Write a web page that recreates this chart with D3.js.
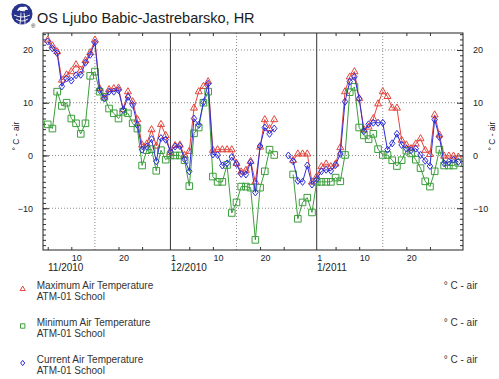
<!DOCTYPE html>
<html><head><meta charset="utf-8">
<script src="https://cdn.jsdelivr.net/npm/d3@7"></script>
<style>
html,body{margin:0;padding:0;background:#fff;}
svg{display:block;font-family:"Liberation Sans",Arial,Helvetica,sans-serif;}
</style></head>
<body>
<svg id="c" width="499" height="379"></svg>
<script>
// ---- data ----
const title = "OS Ljubo Babic-Jastrebarsko, HR";
const startDay = new Date(2010, 10, 5);   // first daily value: 5 Nov 2010
const endDay = new Date(2011, 1, 1);      // exclusive
const dates = d3.timeDay.range(startDay, endDay);

const maxTemp = [
  // Nov 5..30
  21.9,20.8,19.7,14.3,15.3,15.9,17.2,16.2,18.0,19.5,21.9,12.7,11.1,12.5,12.7,12.8,8.7,12.1,10.2,6.8,2.0,2.2,4.9,1.8,5.9,3.8,
  // Dec 1..31
  0.6,1.9,2.0,0.0,0.8,9.0,12.1,13.1,14.0,1.0,1.1,1.1,1.1,1.1,-1.5,-3.1,-2.8,-1.1,-5.0,1.6,6.8,5.1,6.8,null,null,null,-0.9,0.3,0.3,0.3,-5.0,
  // Jan 1..31
  -4.0,-2.1,-1.6,-2.1,-1.6,1.5,12.1,14.9,15.9,10.8,4.9,5.4,7.0,9.8,12.1,11.2,9.0,9.0,2.9,2.0,1.3,2.2,3.2,1.0,0.2,7.7,3.9,-0.1,-0.1,-0.1,-0.3
];
const minTemp = [
  5.9,5.1,12.1,9.4,10.0,7.0,6.1,4.1,6.1,15.1,15.9,12.1,11.1,8.9,8.0,7.0,8.3,8.0,6.1,5.1,-1.9,1.0,1.2,-2.9,1.0,-0.8,
  0.0,0.0,0.0,-0.9,-5.8,4.2,5.3,10.0,12.1,-4.0,-5.0,-5.0,-1.8,-10.9,-8.9,-5.9,-5.9,-6.1,-16.0,-6.1,-3.0,1.1,0.1,null,null,null,-3.6,-12.0,-8.9,-8.0,-10.8,
  -5.0,-5.0,-5.0,-5.0,-4.2,-4.9,0.1,12.0,13.0,5.3,3.8,3.1,4.1,1.2,0.1,0.1,-0.9,-2.0,-0.9,0.9,0.4,-0.8,-2.4,-4.9,-5.9,-3.0,1.1,-1.9,-1.9,-1.9,-1.4
];
const curTemp = [
  21.6,20.3,19.4,13.1,14.6,14.2,15.2,15.3,17.6,19.1,21.4,12.4,10.8,12.1,12.1,12.4,8.6,11.1,9.6,5.8,1.1,1.7,3.1,-1.1,3.3,3.0,
  0.8,1.7,1.8,-0.7,-3.0,7.0,5.8,10.1,13.6,0.2,0.1,-1.9,-1.5,-0.3,-1.6,-3.5,-3.6,-1.3,-7.0,1.8,5.3,4.1,5.1,null,null,0.0,-1.1,-4.8,-5.0,-1.9,-5.5,
  -4.5,-3.0,-2.7,-2.9,-1.8,0.3,10.2,14.0,14.9,10.8,4.6,5.9,6.2,6.2,6.2,1.1,2.3,4.1,2.0,1.3,1.0,1.3,0.1,-1.0,-2.0,6.8,3.5,-1.5,-1.2,-0.8,-1.2
];
const seriesNames = ["Maximum Air Temperature","Minimum Air Temperature","Current Air Temperature"];
const seriesSub = "ATM-01 School";
const unitLabel = "° C - air";
const yMajorTicks = [-10, 0, 10, 20];
const monthLabels = [
  {d: new Date(2010,10,5), t: "11/2010"},
  {d: new Date(2010,11,1), t: "12/2010"},
  {d: new Date(2011,0,1), t: "1/2011"}
];
const dayLabelDates = [new Date(2010,10,10), new Date(2010,10,20), new Date(2010,11,1), new Date(2010,11,10),
  new Date(2010,11,20), new Date(2011,0,1), new Date(2011,0,10), new Date(2011,0,20)];

// ---- layout ----
const L = 43, R = 463, T = 33, B = 250;
const svg = d3.select("#c");
const x = d3.scaleTime().domain([new Date(2010,10,4), new Date(2011,1,1)]).range([L, R]);
const y = d3.scaleLinear().domain([-17.92, 23.22]).range([B, T]);

const colors = ["#e2453c", "#3b9e3b", "#2f2fd8"];

// logo
const logo = svg.append("g").attr("transform", "translate(22,14)");
logo.append("circle").attr("r", 10.5).attr("fill", "#27338c");
logo.append("path").attr("d", "M-6,5 Q0,9 6,5 M-8,1 Q0,5 8,1 M-2,10 Q-1,4 -1,-2 M3,10 Q3,4 2,-1")
  .attr("fill","none").attr("stroke","#fff").attr("stroke-width",0.9);
logo.append("path").attr("d", "M-5,-3 Q-3,-8 1,-7 Q5,-9 6,-4 Q3,-5 2,-2 Q-1,-4 -5,-3 Z").attr("fill","#fff");
logo.append("path").attr("d", "M-3,-4 L-1,-1 L2,-3").attr("fill","none").attr("stroke","#27338c").attr("stroke-width",0.8);
svg.append("text").attr("x", 31).attr("y", 28).attr("font-size", 6).attr("fill","#222").text("®");

// title
svg.append("text").attr("x", 37).attr("y", 22.7).attr("font-size", 14.5).attr("fill", "#1a1a1a").text(title);

// grid
const g = svg.append("g");
g.selectAll("line.hg").data(yMajorTicks).join("line")
  .attr("x1", L).attr("x2", R).attr("y1", d => y(d)).attr("y2", d => y(d))
  .attr("stroke", "#8a8a8a").attr("stroke-dasharray", "1,2").attr("stroke-width", 1);
const midMonths = [new Date(2010,10,15), new Date(2010,11,15), new Date(2011,0,15)];
g.selectAll("line.vg").data(midMonths).join("line")
  .attr("x1", d => x(d)).attr("x2", d => x(d)).attr("y1", T).attr("y2", B)
  .attr("stroke", "#8a8a8a").attr("stroke-dasharray", "1,2").attr("stroke-width", 1);
const monthStarts = [new Date(2010,11,1), new Date(2011,0,1)];
g.selectAll("line.ms").data(monthStarts).join("line")
  .attr("x1", d => x(d)).attr("x2", d => x(d)).attr("y1", T).attr("y2", B)
  .attr("stroke", "#333").attr("stroke-width", 1);

// axes (ticks inward)
const minor = d3.range(-17, 24);
function axisStyle(sel){ sel.select(".domain").remove(); sel.selectAll(".tick line").attr("stroke","#333"); }
svg.append("g").attr("transform", `translate(${L},0)`)
  .call(d3.axisLeft(y).tickValues(minor).tickSize(-3).tickFormat("")).call(axisStyle);
svg.append("g").attr("transform", `translate(${R},0)`)
  .call(d3.axisRight(y).tickValues(minor).tickSize(-3).tickFormat("")).call(axisStyle);
const yl = svg.append("g").attr("transform", `translate(${L},0)`)
  .call(d3.axisLeft(y).tickValues(yMajorTicks).tickSize(-6).tickPadding(10).tickFormat(d3.format("d")));
axisStyle(yl); yl.selectAll("text").attr("font-size", 9).attr("fill","#222").attr("font-family", null);
const yr = svg.append("g").attr("transform", `translate(${R},0)`)
  .call(d3.axisRight(y).tickValues(yMajorTicks).tickSize(-6).tickPadding(10).tickFormat(d3.format("d")));
axisStyle(yr); yr.selectAll("text").attr("font-size", 9).attr("fill","#222").attr("font-family", null);

const fiveDays = [];
[[2010,10],[2010,11],[2011,0]].forEach(([yy,mm]) => [5,10,20,25].forEach(dd => { const dt = new Date(yy,mm,dd); if (dt > x.domain()[0]) fiveDays.push(dt); }));
svg.append("g").attr("transform", `translate(0,${T})`)
  .call(d3.axisTop(x).tickValues(fiveDays).tickSize(-3).tickFormat("")).call(axisStyle);
svg.append("g").attr("transform", `translate(0,${B})`)
  .call(d3.axisBottom(x).tickValues(fiveDays).tickSize(-3).tickFormat("")).call(axisStyle);

// frame
svg.append("rect").attr("x", L).attr("y", T).attr("width", R - L).attr("height", B - T)
  .attr("fill", "none").attr("stroke", "#222").attr("stroke-width", 1);

// bottom labels
svg.selectAll("text.day").data(dayLabelDates).join("text")
  .attr("x", d => x(d) + 0.5).attr("y", 261).attr("font-size", 9).attr("fill", "#222")
  .text(d => d.getDate());
svg.selectAll("text.mon").data(monthLabels).join("text")
  .attr("x", (d,i) => i === 0 ? 48 : x(d.d) + 0.3).attr("y", 270.5).attr("font-size", 10).attr("fill", "#222")
  .text(d => d.t);

// y unit labels
[19, 495].forEach(xx => {
  svg.append("text").attr("transform", `translate(${xx},136) rotate(-90)`)
    .attr("text-anchor", "middle").attr("font-size", 8.5).attr("fill", "#222").text(unitLabel);
});

// markers
function markerPath(i, s) {
  if (i === 0) return `M0,${-1.15*s}L${s},${0.6*s}L${-s},${0.6*s}Z`;
  if (i === 1) return `M${-s},${-s}H${s}V${s}H${-s}Z`;
  return `M0,${-1.1*s}L${0.85*s},0L0,${1.1*s}L${-0.85*s},0Z`;
}
const allSeries = [maxTemp, minTemp, curTemp];
const plot = svg.append("g");
allSeries.forEach((vals, i) => {
  const pts = dates.map((d, k) => ({d, v: vals[k]}));
  const line = d3.line().defined(p => p.v != null).x(p => x(p.d)).y(p => y(p.v));
  plot.append("path").datum(pts).attr("d", line).attr("fill", "none")
    .attr("stroke", colors[i]).attr("stroke-width", 1);
  const sz = [3.5, 3.3, 3.2][i];
  plot.selectAll(null).data(pts.filter(p => p.v != null)).join("path")
    .attr("transform", p => `translate(${x(p.d)},${y(p.v)})`)
    .attr("d", markerPath(i, sz)).attr("fill", "none")
    .attr("stroke", colors[i]).attr("stroke-width", 1);
});

// legend
const legY = [285, 322, 359];
seriesNames.forEach((name, i) => {
  const cy = legY[i];
  svg.append("path").attr("transform", `translate(22.7,${cy + 4})`)
    .attr("d", markerPath(i, [2.6, 2.2, 2.4][i])).attr("fill", "none")
    .attr("stroke", colors[i]).attr("stroke-width", 1);
  svg.append("text").attr("x", 36.7).attr("y", cy + 3.6).attr("font-size", 10).attr("fill", "#333").text(name);
  svg.append("text").attr("x", 36.7).attr("y", cy + 15.2).attr("font-size", 10).attr("fill", "#333").text(seriesSub);
  svg.append("text").attr("x", 477.7).attr("y", cy + 3.6).attr("text-anchor", "end").attr("font-size", 10).attr("fill", "#333").text(unitLabel);
});
</script>
</body></html>
